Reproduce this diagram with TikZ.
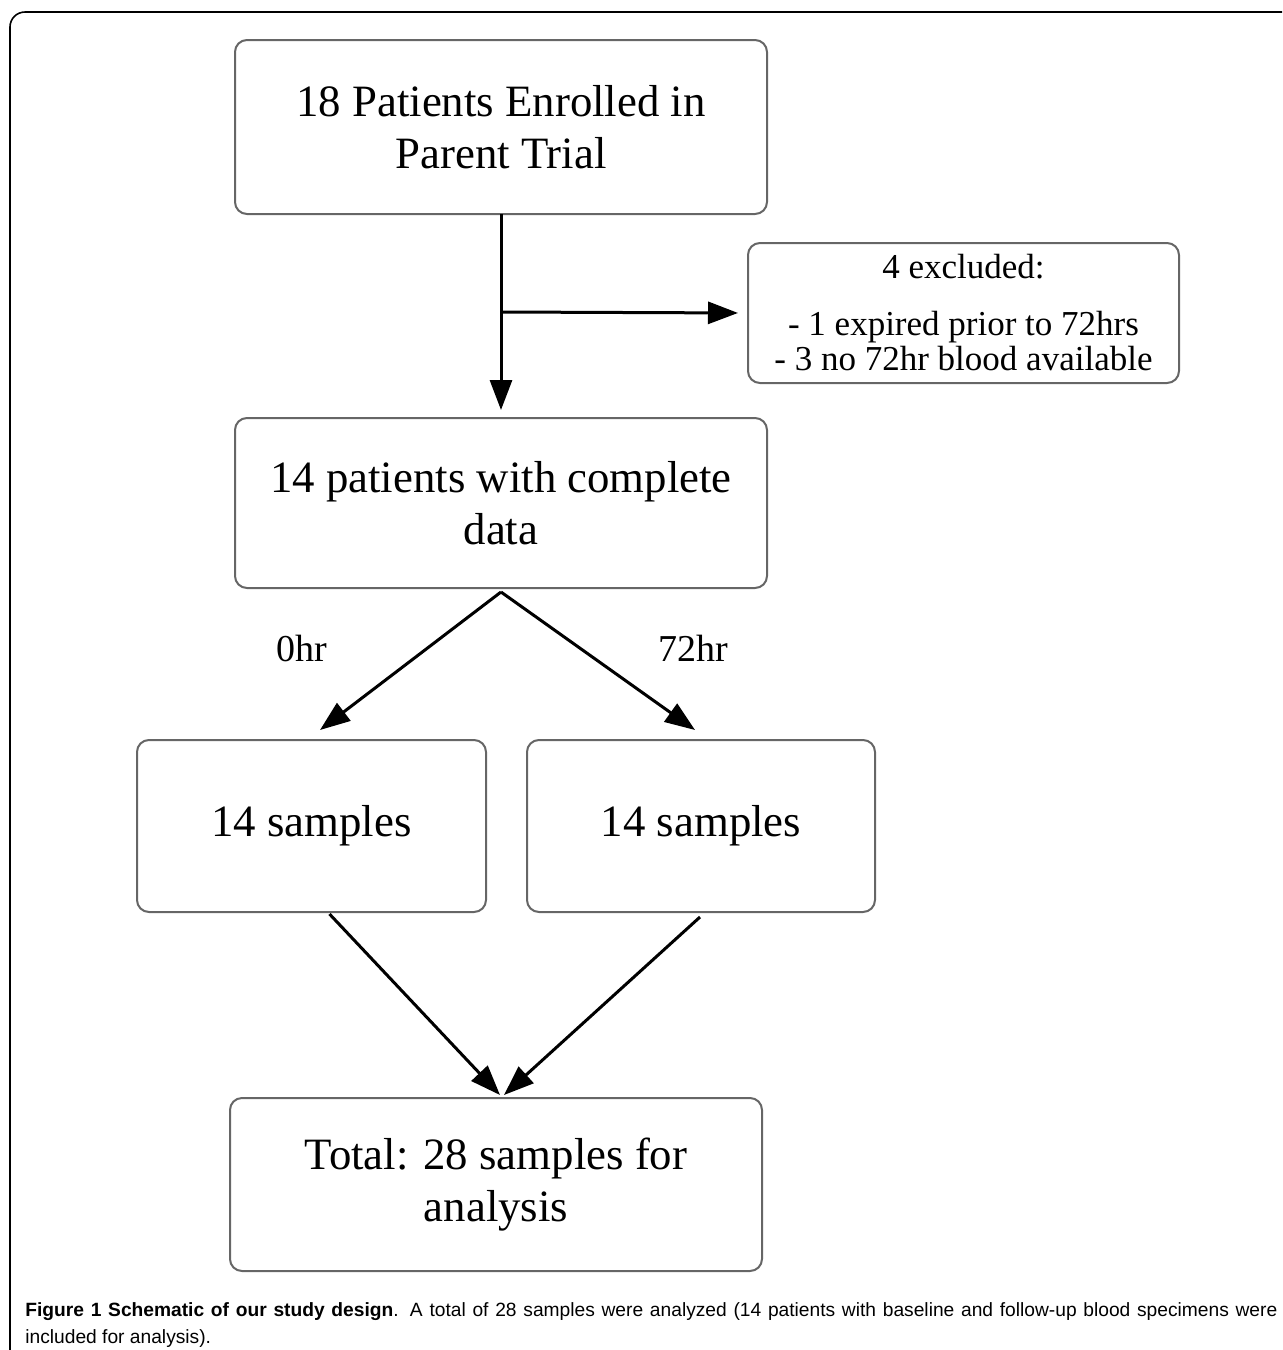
\documentclass[tikz,border=0pt]{standalone}
\usepackage{fontspec}
\setmainfont{Liberation Serif}
\setsansfont{Liberation Sans}
\usetikzlibrary{arrows.meta}

\begin{document}
\begin{tikzpicture}[x=0.5pt, y=-0.5pt, >={Triangle[length=15pt,width=11pt]},
    box/.style={rectangle, rounded corners=6pt, draw=black!60, line width=1pt, outer sep=0pt, align=center, font=\fontsize{22.4}{26}\selectfont},
    arr/.style={->, line width=1.5pt},
    hrs/.style={font=\fontsize{19}{22}\selectfont},
    captext/.style={anchor=base west, inner sep=0pt, font=\sffamily\fontsize{9.6}{12}\selectfont}]

        \useasboundingbox (0,0) rectangle (1282,1350);
        \draw[line width=0.8pt, rounded corners=7.5pt] (10,1350) -- (10,12) -- (1282,12);

        \node[box, minimum width=266pt, minimum height=87pt] (enrolled) at (501,127) {18 Patients Enrolled in\\Parent Trial};
        \node[box, minimum width=215.5pt, minimum height=70pt, font=\fontsize{17.5}{17.5}\selectfont] (excluded) at (963.5,313) {4 excluded:\\[11pt]- 1 expired prior to 72hrs\\- 3 no 72hr blood available};
        \node[box, minimum width=266pt, minimum height=85pt] (complete) at (501,503) {14 patients with complete\\data};

        \node[box, minimum width=174.5pt, minimum height=86pt] (s0) at (311.5,826) {14 samples};
        \node[box, minimum width=174pt, minimum height=86pt] (s72) at (701,826) {14 samples};

        \node[box, minimum width=266pt, minimum height=86.5pt] (total) at (496,1184.5) {Total: 28 samples for\\analysis};

        \node[hrs] (h0) at (302,648) {0hr};
        \node[hrs] (h72) at (693,648) {72hr};

        \coordinate (split) at (501,312);

        \draw[arr, shorten >=4pt] (enrolled) -- (complete);
        \draw[arr, shorten >=5pt] (split) -- (excluded.west);

        \draw[arr] ([yshift=-2pt]complete.south) -- ([xshift=4.25pt,yshift=5pt]s0.north);
        \draw[arr] ([yshift=-2pt]complete.south) -- ([xshift=-3pt,yshift=5pt]s72.north);

        \draw[arr] ([xshift=9pt,yshift=-1pt]s0.south) -- ([xshift=2pt,yshift=1.5pt]total.north);
        \draw[arr] ([xshift=-0.5pt,yshift=-2.5pt]s72.south) -- ([xshift=4pt,yshift=1.5pt]total.north);

        \node[captext] (cap1) at (25,1316) {\makebox[626pt][s]{\textbf{Figure 1 Schematic of our study design}. A total of 28 samples were analyzed (14 patients with baseline and follow-up blood specimens were}};
        \node[captext] (cap2) at (25,1343) {included for analysis).};

    \end{tikzpicture}
\end{document}
